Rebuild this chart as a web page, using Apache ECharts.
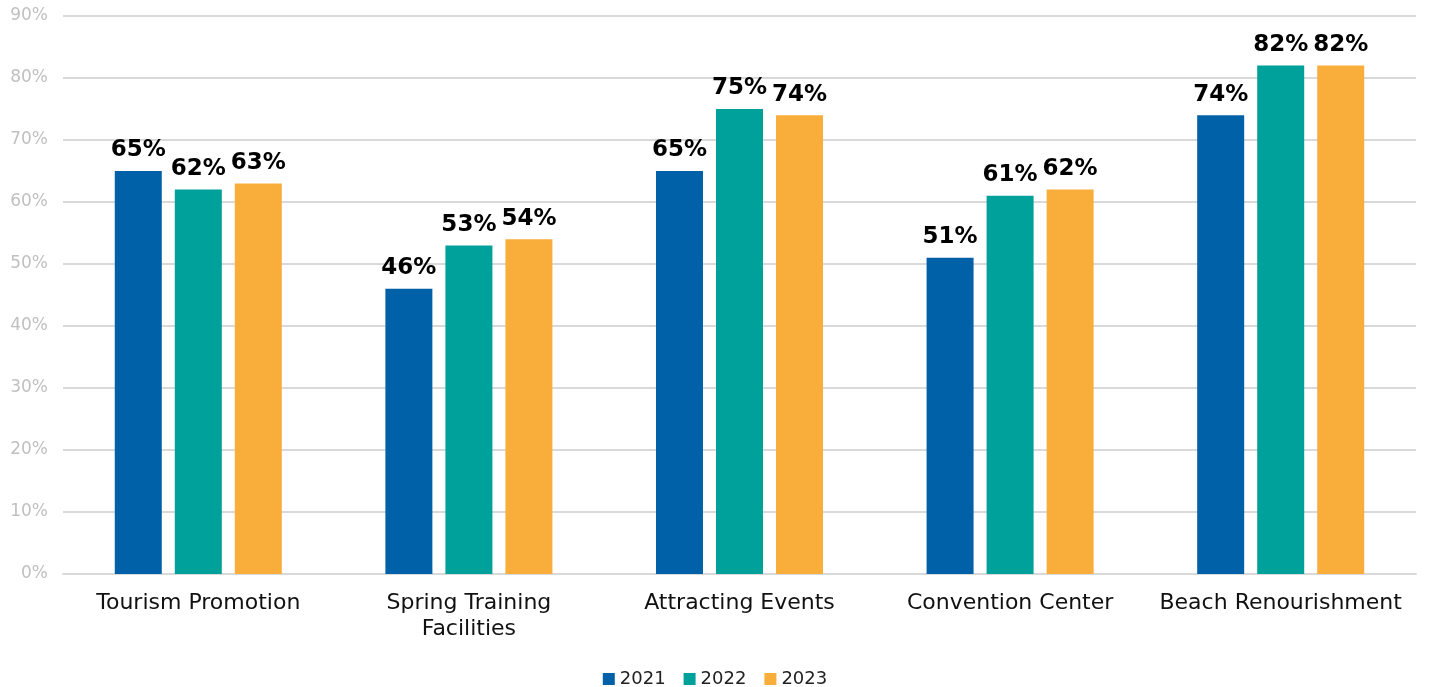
<!DOCTYPE html>
<html><head><meta charset="utf-8">
<script src="https://cdn.jsdelivr.net/npm/echarts@6/dist/echarts.min.js"></script>
<style>html,body{margin:0;padding:0;background:#fff}#c{width:1430px;height:687px}</style>
</head><body><div id="c"></div>
<script>
const categories = ['Tourism Promotion', 'Spring Training\nFacilities', 'Attracting Events', 'Convention Center', 'Beach Renourishment'];
const seriesNames = ['2021', '2022', '2023'];
const v2021 = [65, 46, 65, 51, 74];
const v2022 = [62, 53, 75, 61, 82];
const v2023 = [63, 54, 74, 62, 82];
const colors = ['#0061A8', '#00A19A', '#F9AE3B'];
const FONT = '"DejaVu Sans", sans-serif';
const chart = echarts.init(document.getElementById('c'), null, {renderer: 'canvas'});
const mk = (name, data, color) => ({
  name, type: 'bar', data, barWidth: 47, barGap: '27.7%',
  itemStyle: {color},
  label: {show: true, position: 'top', distance: 9, formatter: '{c}%', color: '#000', fontWeight: 'bold', fontSize: 23, fontFamily: FONT}
});
chart.setOption({
  animation: false,
  textStyle: {fontFamily: FONT},
  grid: {left: 63, right: 14, top: 16, bottom: 113, containLabel: false},
  legend: {
    top: 665, itemWidth: 12, itemHeight: 12, itemGap: 18, icon: 'rect',
    textStyle: {fontSize: 18, color: '#222', fontFamily: FONT},
    data: seriesNames
  },
  xAxis: {
    type: 'category', data: categories,
    axisLine: {show: true, lineStyle: {color: '#d9d9d9', width: 2}},
    axisTick: {show: false},
    axisLabel: {fontSize: 22, color: '#111', margin: 16, lineHeight: 26, fontFamily: FONT, interval: 0}
  },
  yAxis: {
    type: 'value', min: 0, max: 90, interval: 10,
    axisLabel: {formatter: '{value}%', color: '#c0c0c0', fontSize: 17, margin: 15, fontFamily: FONT},
    splitLine: {lineStyle: {color: '#d9d9d9', width: 2}},
    axisLine: {show: false}, axisTick: {show: false}
  },
  series: [mk('2021', v2021, colors[0]), mk('2022', v2022, colors[1]), mk('2023', v2023, colors[2])]
});
</script></body></html>
